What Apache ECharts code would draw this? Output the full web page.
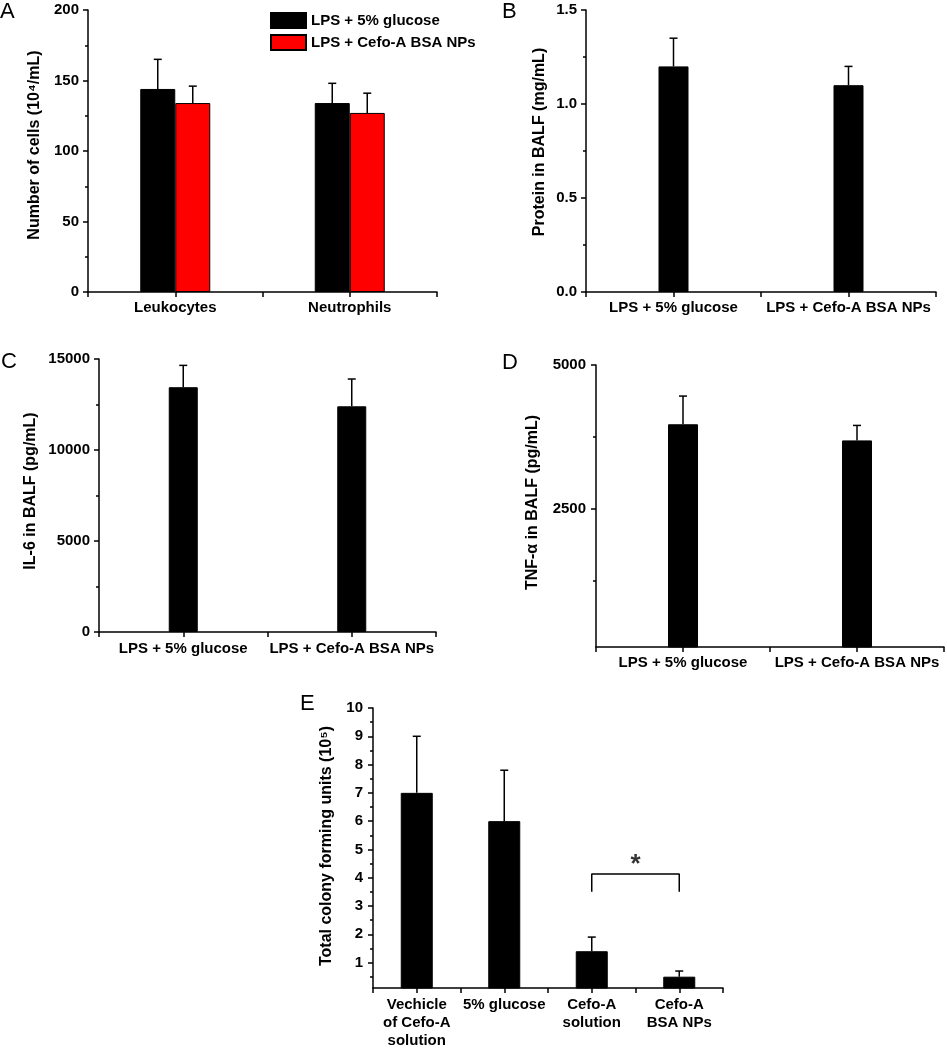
<!DOCTYPE html>
<html>
<head>
<meta charset="utf-8">
<script src="https://cdn.jsdelivr.net/npm/echarts@6/dist/echarts.min.js"></script>
<style>html,body{margin:0;padding:0;background:#fff;}#c{width:947px;height:1050px;}</style>
</head>
<body>
<div id="c"></div>
<script>
// ---------- DATA ----------
const seriesNames = ['LPS + 5% glucose', 'LPS + Cefo-A BSA NPs'];
// Panel A
const catA = ['Leukocytes', 'Neutrophils'];
const meanA_glucose = [144, 134];
const sdA_glucose = [21, 14];
const meanA_nps = [134, 127];
const sdA_nps = [12, 14];
// Panel B
const catB = ['LPS + 5% glucose', 'LPS + Cefo-A BSA NPs'];
const meanB = [1.2, 1.1];
const sdB = [0.15, 0.1];
// Panel C
const catC = ['LPS + 5% glucose', 'LPS + Cefo-A BSA NPs'];
const meanC = [13450, 12400];
const sdC = [1200, 1500];
// Panel D
const catD = ['LPS + 5% glucose', 'LPS + Cefo-A BSA NPs'];
const meanD = [3970, 3690];
const sdD = [490, 260];
const ticksD = [2500, 5000];
const minorTicksD = [1250, 3750];
// Panel E
const catE = ['Vechicle\nof Cefo-A\nsolution', '5% glucose', 'Cefo-A\nsolution', 'Cefo-A\nBSA NPs'];
const meanE = [7.0, 6.0, 1.4, 0.5];
const sdE = [2.0, 1.8, 0.5, 0.2];
const ticksE = [1, 2, 3, 4, 5, 6, 7, 8, 9, 10];
const minorTicksE = [0.5, 1.5, 2.5, 3.5, 4.5, 5.5, 6.5, 7.5, 8.5, 9.5];
const bracketE = [[2, 3.5], [2, 4.13], [3, 4.13], [3, 3.5]];
const starE = [[2.5, 4.45]];
const panelLabels = ['A', 'B', 'C', 'D', 'E'];
const yTitles = ['Number of cells (10\u2074/mL)', 'Protein in BALF (mg/mL)', 'IL-6 in BALF (pg/mL)', 'TNF-\u03b1 in BALF (pg/mL)', 'Total colony forming units (10\u2075)'];

// ---------- STYLE / LAYOUT ----------
const FONT = '"Liberation Sans", Arial, sans-serif';
const BLACK = '#000';
const grids = [
  {left: 88, top: 10, width: 349, height: 282},
  {left: 586, top: 10, width: 350, height: 282},
  {left: 99, top: 359, width: 337, height: 273},
  {left: 596, top: 365, width: 348, height: 282},
  {left: 373, top: 708, width: 350, height: 282}
];
const titlePos = [[0, 1], [502, 1], [1, 351], [502, 352], [300, 693]];

const xAxis = [], yAxis = [], series = [];
const lineW = 1.5;
const tickFont = {fontFamily: FONT, fontSize: 15, fontWeight: 'bold', color: BLACK};

function baseY(g, o) {
  return Object.assign({
    gridIndex: g, type: 'value', position: 'left',
    nameLocation: 'middle', nameRotate: 90,
    nameTextStyle: {fontFamily: FONT, fontSize: 16, fontWeight: 'bold', color: BLACK},
    axisLine: {show: true, onZero: false, lineStyle: {color: BLACK, width: lineW}},
    axisTick: {show: true, length: 5, lineStyle: {color: BLACK, width: lineW}},
    axisLabel: Object.assign({margin: 9, formatter: v => String(v)}, tickFont),
    splitLine: {show: false}
  }, o);
}
function addX(g, cats, labelOpts) {
  const idx = xAxis.length;
  xAxis.push({
    gridIndex: g, type: 'category', data: cats, position: 'bottom',
    axisLine: {show: true, onZero: false, lineStyle: {color: BLACK, width: lineW}},
    axisTick: {show: true, alignWithLabel: true, length: 5, lineStyle: {color: BLACK, width: lineW}},
    axisLabel: Object.assign({interval: 0, margin: 8, fontFamily: FONT, fontSize: 15, fontWeight: 'bold', color: BLACK}, labelOpts || {}),
    splitLine: {show: false}
  });
  const bounds = [];
  for (let i = 0; i <= cats.length; i++) bounds.push(i - 0.5);
  xAxis.push({
    gridIndex: g, type: 'value', position: 'bottom', min: -0.5, max: cats.length - 0.5,
    axisLine: {show: false, onZero: false}, axisLabel: {show: false}, splitLine: {show: false},
    axisTick: {show: true, length: 5, customValues: bounds, lineStyle: {color: BLACK, width: lineW}}
  });
  return idx;
}
function errRender(offset) {
  return function (params, api) {
    const a = api.coord([api.value(0), api.value(2)]);
    const b = api.coord([api.value(0), api.value(1)]);
    const cx = a[0] + offset;
    return {type: 'group', children: [
      {type: 'line', shape: {x1: cx, y1: a[1], x2: cx, y2: b[1]}, style: {stroke: BLACK, lineWidth: lineW}},
      {type: 'line', shape: {x1: cx - 4, y1: b[1], x2: cx + 4, y2: b[1]}, style: {stroke: BLACK, lineWidth: lineW}}
    ]};
  };
}
function addBars(name, xi, yi, means, sds, color, barWidth, offset) {
  series.push({
    name: name, type: 'bar', xAxisIndex: xi, yAxisIndex: yi, data: means,
    barWidth: barWidth, barGap: '0%',
    itemStyle: {color: color, borderColor: BLACK, borderWidth: 1},
    silent: true, animation: false
  });
  series.push({
    type: 'custom', xAxisIndex: xi, yAxisIndex: yi,
    data: means.map((m, i) => [i, m + sds[i], m]),
    encode: {x: 0, y: 1}, renderItem: errRender(offset), silent: true, animation: false, z: 3
  });
}
function minorAxis(g, min, max, vals) {
  return {gridIndex: g, type: 'value', position: 'left', min: min, max: max,
    axisLine: {show: false, onZero: false}, axisLabel: {show: false}, splitLine: {show: false},
    axisTick: {show: true, length: 3, customValues: vals, lineStyle: {color: BLACK, width: lineW}}};
}

// Panel A
let xi = addX(0, catA);
let yi = yAxis.length;
yAxis.push(baseY(0, {min: 0, max: 200, interval: 50, name: yTitles[0], nameGap: 45,
  nameTextStyle: {fontFamily: FONT, fontSize: 16, fontWeight: 'bold', color: BLACK, padding: [0, 0, 0, 12]},
  minorTick: {show: true, splitNumber: 2, length: 3, lineStyle: {color: BLACK, width: lineW}}}));
addBars(seriesNames[0], xi, yi, meanA_glucose, sdA_glucose, '#000000', 35, -17.5);
addBars(seriesNames[1], xi, yi, meanA_nps, sdA_nps, '#ff0000', 35, 17.5);

// Panel B
xi = addX(1, catB);
yi = yAxis.length;
yAxis.push(baseY(1, {min: 0, max: 1.5, interval: 0.5, name: yTitles[1], nameGap: 38,
  nameTextStyle: {fontFamily: FONT, fontSize: 16, fontWeight: 'bold', color: BLACK, padding: [0, 0, 0, 18]},
  axisLabel: Object.assign({margin: 9, formatter: v => v.toFixed(1)}, tickFont),
  minorTick: {show: true, splitNumber: 2, length: 3, lineStyle: {color: BLACK, width: lineW}}}));
addBars('B', xi, yi, meanB, sdB, '#000000', 30, 0);

// Panel C
xi = addX(2, catC, {margin: 9});
yi = yAxis.length;
yAxis.push(baseY(2, {min: 0, max: 15000, interval: 5000, name: yTitles[2], nameGap: 60,
  nameTextStyle: {fontFamily: FONT, fontSize: 16, fontWeight: 'bold', color: BLACK, padding: [0, 0, 0, 9]},
  minorTick: {show: true, splitNumber: 2, length: 3, lineStyle: {color: BLACK, width: lineW}}}));
addBars('C', xi, yi, meanC, sdC, '#000000', 29, 0);

// Panel D
xi = addX(3, catD);
yi = yAxis.length;
yAxis.push(baseY(3, {min: 100, max: 5000, name: yTitles[3], nameGap: 55,
  nameTextStyle: {fontFamily: FONT, fontSize: 16, fontWeight: 'bold', color: BLACK, padding: [0, 0, 0, 7]},
  axisTick: {show: true, length: 5, customValues: ticksD, lineStyle: {color: BLACK, width: lineW}},
  axisLabel: Object.assign({margin: 10, customValues: ticksD, formatter: v => String(v)}, tickFont)}));
yAxis.push(minorAxis(3, 100, 5000, minorTicksD));
addBars('D', xi, yi, meanD, sdD, '#000000', 30, 0);

// Panel E
xi = addX(4, catE, {lineHeight: 18});
const xiValE = xi + 1;
yi = yAxis.length;
yAxis.push(baseY(4, {min: 0.1, max: 10, name: yTitles[4], nameGap: 38,
  nameTextStyle: {fontFamily: FONT, fontSize: 16, fontWeight: 'bold', color: BLACK, padding: [0, 0, 0, 4]},
  axisTick: {show: true, length: 5, customValues: ticksE, lineStyle: {color: BLACK, width: lineW}},
  axisLabel: Object.assign({margin: 10, customValues: ticksE, formatter: v => String(v)}, tickFont)}));
yAxis.push(minorAxis(4, 0.1, 10, minorTicksE));
addBars('E', xi, yi, meanE, sdE, '#000000', 32, 0);
series.push({type: 'line', xAxisIndex: xiValE, yAxisIndex: yi, data: bracketE, symbol: 'none',
  lineStyle: {color: BLACK, width: lineW}, silent: true, animation: false});
series.push({type: 'scatter', xAxisIndex: xiValE, yAxisIndex: yi, data: starE, symbolSize: 1,
  itemStyle: {color: 'rgba(0,0,0,0)'},
  label: {show: true, position: 'inside', formatter: '*', fontFamily: FONT, fontSize: 26, fontWeight: 'bold', color: BLACK},
  silent: true, animation: false});

const option = {
  backgroundColor: '#fff',
  animation: false,
  title: panelLabels.map((t, i) => ({text: t, left: titlePos[i][0], top: titlePos[i][1], padding: 0,
    textStyle: {fontFamily: FONT, fontSize: 22, fontWeight: 'normal', color: BLACK}})),
  legend: {
    data: seriesNames, left: 265, top: 7, orient: 'vertical', itemWidth: 35, itemHeight: 15, itemGap: 5,
    icon: 'rect', selectedMode: false,
    textStyle: {fontFamily: FONT, fontSize: 15, fontWeight: 'bold', color: BLACK}
  },
  grid: grids.map(g => Object.assign({containLabel: false}, g)),
  xAxis: xAxis,
  yAxis: yAxis,
  series: series
};
const chart = echarts.init(document.getElementById('c'), null, {renderer: 'canvas'});
chart.setOption(option);
</script>
</body>
</html>
